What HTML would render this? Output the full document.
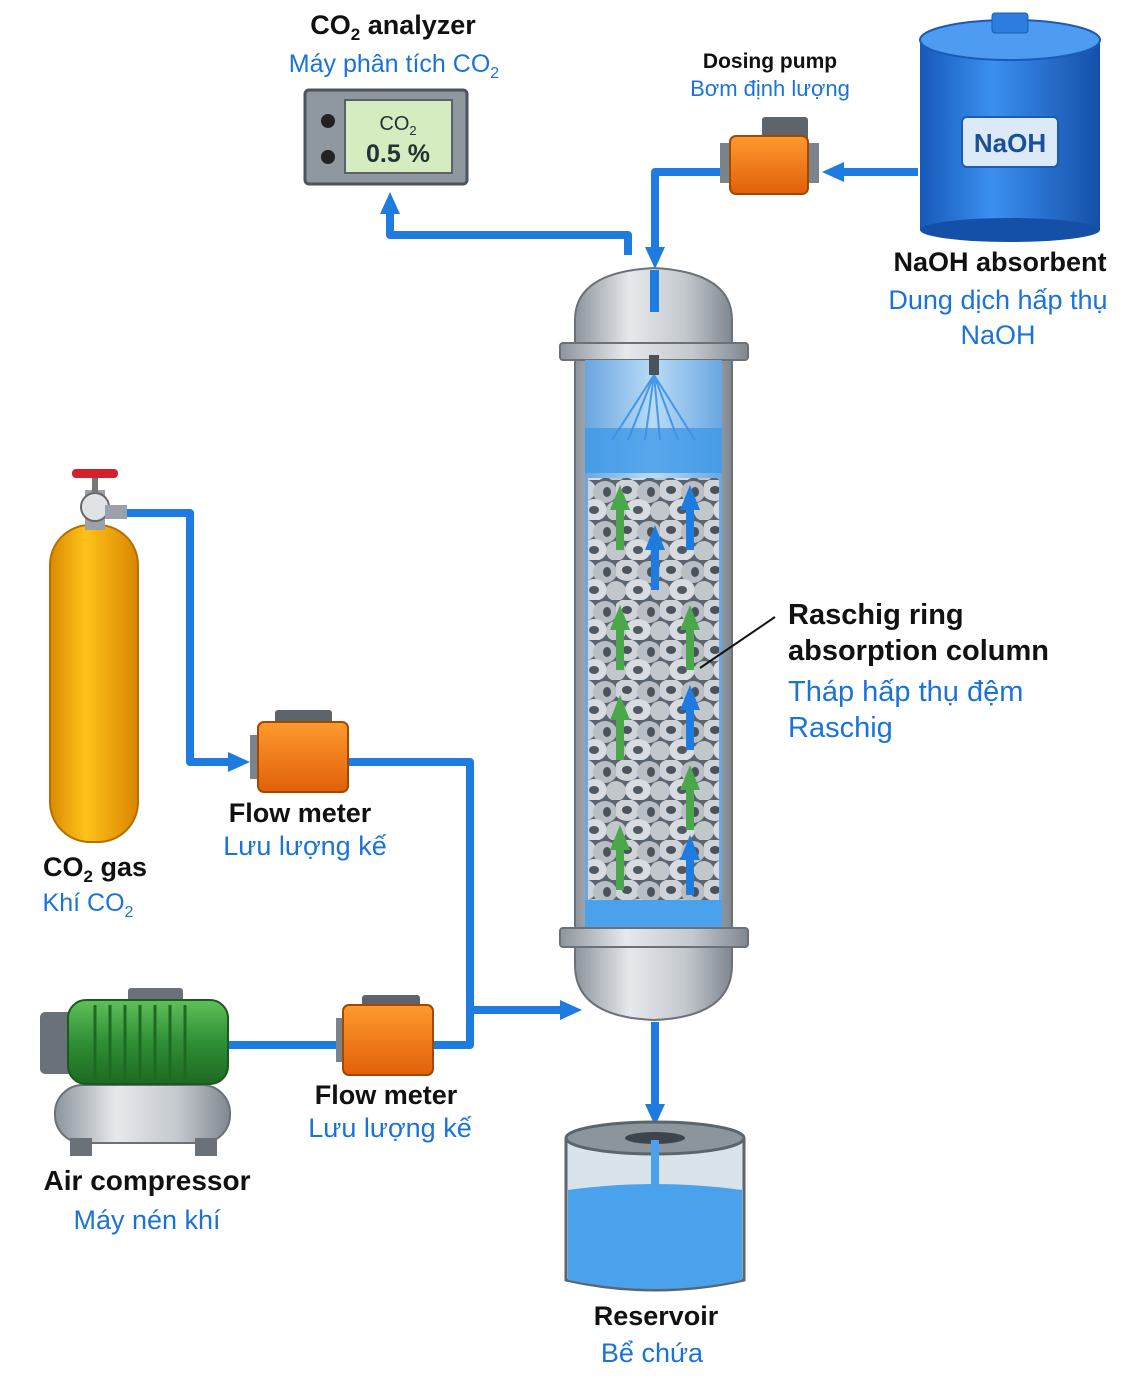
<!DOCTYPE html>
<html><head><meta charset="utf-8"><style>
html,body{margin:0;padding:0;background:#fff}
svg{display:block}
text{font-family:"Liberation Sans","DejaVu Sans",sans-serif}
.b{font-weight:bold;fill:#111}
.u{fill:#1a73d9}
</style></head><body>
<svg width="1128" height="1394" viewBox="0 0 1128 1394" xmlns="http://www.w3.org/2000/svg">
<defs>
<linearGradient id="steel" x1="0" x2="1"><stop offset="0" stop-color="#8d949c"/><stop offset=".35" stop-color="#e6e9ec"/><stop offset=".7" stop-color="#c4c9ce"/><stop offset="1" stop-color="#80878f"/></linearGradient>
<linearGradient id="yel" x1="0" x2="1"><stop offset="0" stop-color="#d98a00"/><stop offset=".4" stop-color="#ffc21a"/><stop offset="1" stop-color="#d98600"/></linearGradient>
<linearGradient id="blu" x1="0" x2="1"><stop offset="0" stop-color="#1659b8"/><stop offset=".4" stop-color="#3b8ff0"/><stop offset="1" stop-color="#1450a8"/></linearGradient>
<linearGradient id="org" x1="0" y1="0" x2="0" y2="1"><stop offset="0" stop-color="#ff9a2e"/><stop offset="1" stop-color="#e0600a"/></linearGradient>
<linearGradient id="grn" x1="0" y1="0" x2="0" y2="1"><stop offset="0" stop-color="#5fc05a"/><stop offset=".5" stop-color="#2f8f35"/><stop offset="1" stop-color="#1d6a22"/></linearGradient>
<linearGradient id="glass" x1="0" x2="1"><stop offset="0" stop-color="#6aa6e0"/><stop offset=".5" stop-color="#b8dcf7"/><stop offset="1" stop-color="#6aa6e0"/></linearGradient>
<pattern id="rings" width="44" height="40" patternUnits="userSpaceOnUse">
<rect width="44" height="40" fill="#5a6470"/>
<ellipse cx="11" cy="10" rx="13" ry="11" fill="#cfd3d8"/><ellipse cx="11" cy="10" rx="5" ry="4" fill="#4a525c"/>
<ellipse cx="33" cy="12" rx="12" ry="11" fill="#b9bec4"/><ellipse cx="35" cy="12" rx="4" ry="5" fill="#4a525c"/>
<ellipse cx="22" cy="30" rx="13" ry="11" fill="#d8dce0"/><ellipse cx="22" cy="30" rx="5" ry="4" fill="#505861"/>
<ellipse cx="0" cy="31" rx="10" ry="10" fill="#c2c7cc"/><ellipse cx="44" cy="31" rx="10" ry="10" fill="#c2c7cc"/>
</pattern>
<marker id="ar" markerWidth="22" markerHeight="22" refX="8" refY="11" orient="auto" markerUnits="userSpaceOnUse"><path d="M0,1 L22,11 L0,21 z" fill="#1e7be0"/></marker>
</defs>

<!-- pipes -->
<g fill="none" stroke="#1e7be0" stroke-width="8" stroke-linejoin="round">
<path d="M918,172 H836" marker-end="url(#ar)"/>
<path d="M720,172 H655 V255" marker-end="url(#ar)"/>
<path d="M628,255 V235 H390 V206" marker-end="url(#ar)"/>
<path d="M120,513 H190 V762 H236" marker-end="url(#ar)"/>
<path d="M348,762 H470 V1045 H433"/>
<path d="M470,1010 H568" marker-end="url(#ar)"/>
<path d="M228,1045 H340"/>
<path d="M655,1022 V1112" marker-end="url(#ar)"/>
</g>

<!-- analyzer -->
<rect x="305" y="90" width="162" height="94" rx="4" fill="#8f979f" stroke="#4d545b" stroke-width="3"/>
<rect x="345" y="100" width="107" height="73" fill="#d4ecc0" stroke="#5b6168" stroke-width="2"/>
<circle cx="328" cy="121" r="7" fill="#222"/><circle cx="328" cy="157" r="7" fill="#222"/>
<text x="398" y="130" font-size="20" text-anchor="middle" fill="#233">CO<tspan font-size="13" dy="5">2</tspan></text>
<text x="398" y="162" font-size="25" text-anchor="middle" font-weight="bold" fill="#233">0.5 %</text>
<text x="393" y="34" font-size="27" text-anchor="middle" class="b">CO<tspan font-size="17" dy="6">2</tspan><tspan dy="-6"> analyzer</tspan></text>
<text x="394" y="72" font-size="25" text-anchor="middle" class="u">Máy phân tích CO<tspan font-size="16" dy="6">2</tspan></text>

<!-- dosing pump -->
<rect x="762" y="117" width="46" height="24" rx="3" fill="#5d646c"/>
<rect x="720" y="143" width="14" height="40" fill="#7b838b"/>
<rect x="805" y="143" width="14" height="40" fill="#7b838b"/>
<rect x="730" y="136" width="78" height="58" rx="6" fill="url(#org)" stroke="#a34800" stroke-width="2"/>
<text x="770" y="68" font-size="21" text-anchor="middle" class="b">Dosing pump</text>
<text x="770" y="96" font-size="22" text-anchor="middle" class="u">Bơm định lượng</text>

<!-- NaOH tank -->
<rect x="920" y="40" width="180" height="190" fill="url(#blu)"/>
<ellipse cx="1010" cy="230" rx="90" ry="12" fill="#1450a8"/>
<ellipse cx="1010" cy="40" rx="90" ry="20" fill="#4d9cf2" stroke="#1a5cb5" stroke-width="2"/>
<rect x="992" y="13" width="36" height="20" rx="3" fill="#2d7de0" stroke="#1a5cb5"/>
<rect x="962" y="117" width="96" height="50" rx="5" fill="#dceaf8" stroke="#1a5cb5" stroke-width="2"/>
<text x="1010" y="152" font-size="26" text-anchor="middle" font-weight="bold" fill="#1a4f9a">NaOH</text>
<text x="1000" y="271" font-size="27" text-anchor="middle" class="b">NaOH absorbent</text>
<text x="998" y="309" font-size="27" text-anchor="middle" class="u">Dung dịch hấp thụ</text>
<text x="998" y="344" font-size="27" text-anchor="middle" class="u">NaOH</text>

<!-- column -->
<path d="M575,345 V320 Q575,272 654,268 Q732,272 732,320 V345 z" fill="url(#steel)" stroke="#6a7179" stroke-width="2"/>
<rect x="650" y="270" width="9" height="42" fill="#1e7be0"/>
<rect x="560" y="343" width="188" height="17" rx="3" fill="url(#steel)" stroke="#6a7179" stroke-width="2"/>
<rect x="575" y="360" width="157" height="570" fill="url(#steel)" stroke="#6a7179" stroke-width="2"/>
<rect x="585" y="360" width="137" height="570" fill="url(#glass)"/>
<rect x="585" y="428" width="137" height="45" fill="#3f9ae8" opacity=".8"/>
<rect x="588" y="478" width="131" height="424" fill="url(#rings)"/>
<rect x="585" y="900" width="137" height="30" fill="#4aa2ec"/>
<g stroke="#3d90e6" stroke-width="2" opacity=".9">
<line x1="654" y1="375" x2="612" y2="440"/><line x1="654" y1="375" x2="628" y2="440"/><line x1="654" y1="375" x2="645" y2="440"/><line x1="654" y1="375" x2="660" y2="440"/><line x1="654" y1="375" x2="678" y2="440"/><line x1="654" y1="375" x2="695" y2="440"/>
</g>
<rect x="649" y="355" width="10" height="20" fill="#4a525a"/>
<g fill="#1e7be0"><path d="M610,510 L620,485 L630,510 h-6 v40 h-8 v-40z" fill="#4aa84a"/><path d="M680,510 L690,485 L700,510 h-6 v40 h-8 v-40z"/><path d="M645,550 L655,525 L665,550 h-6 v40 h-8 v-40z"/><path d="M610,630 L620,605 L630,630 h-6 v40 h-8 v-40z" fill="#4aa84a"/><path d="M680,630 L690,605 L700,630 h-6 v40 h-8 v-40z" fill="#4aa84a"/><path d="M610,720 L620,695 L630,720 h-6 v40 h-8 v-40z" fill="#4aa84a"/><path d="M680,710 L690,685 L700,710 h-6 v40 h-8 v-40z"/><path d="M680,790 L690,765 L700,790 h-6 v40 h-8 v-40z" fill="#4aa84a"/><path d="M610,850 L620,825 L630,850 h-6 v40 h-8 v-40z" fill="#4aa84a"/><path d="M680,860 L690,835 L700,860 h-6 v35 h-8 v-35z"/></g>
<rect x="560" y="928" width="188" height="19" rx="3" fill="url(#steel)" stroke="#6a7179" stroke-width="2"/>
<path d="M575,947 V965 Q575,1017 654,1020 Q732,1017 732,965 V947 z" fill="url(#steel)" stroke="#6a7179" stroke-width="2"/>
<line x1="775" y1="617" x2="700" y2="668" stroke="#111" stroke-width="2"/>
<text x="788" y="624" font-size="29" class="b">Raschig ring</text>
<text x="788" y="660" font-size="29" class="b">absorption column</text>
<text x="788" y="701" font-size="29" class="u">Tháp hấp thụ đệm</text>
<text x="788" y="737" font-size="29" class="u">Raschig</text>

<!-- CO2 cylinder -->
<rect x="50" y="525" width="88" height="317" rx="40" fill="url(#yel)" stroke="#b36f00" stroke-width="2"/>
<rect x="85" y="490" width="20" height="40" fill="#9aa1a8"/>
<circle cx="95" cy="507" r="14" fill="#dfe3e6" stroke="#666" stroke-width="2"/>
<rect x="105" y="505" width="22" height="14" fill="#9aa1a8"/>
<rect x="92" y="475" width="6" height="18" fill="#777"/>
<rect x="72" y="469" width="46" height="9" rx="4" fill="#d3202a"/>
<text x="95" y="876" font-size="27" text-anchor="middle" class="b">CO<tspan font-size="17" dy="6">2</tspan><tspan dy="-6"> gas</tspan></text>
<text x="88" y="911" font-size="25" text-anchor="middle" class="u">Khí CO<tspan font-size="16" dy="6">2</tspan></text>

<!-- flow meter 1 -->
<rect x="275" y="710" width="57" height="16" rx="3" fill="#5d646c"/>
<rect x="250" y="735" width="14" height="44" fill="#7b838b"/>
<rect x="258" y="722" width="90" height="70" rx="6" fill="url(#org)" stroke="#a34800" stroke-width="2"/>
<text x="300" y="822" font-size="27" text-anchor="middle" class="b">Flow meter</text>
<text x="305" y="855" font-size="27" text-anchor="middle" class="u">Lưu lượng kế</text>

<!-- flow meter 2 -->
<rect x="362" y="995" width="58" height="15" rx="3" fill="#5d646c"/>
<rect x="336" y="1018" width="14" height="44" fill="#7b838b"/>
<rect x="343" y="1005" width="90" height="70" rx="6" fill="url(#org)" stroke="#a34800" stroke-width="2"/>
<text x="386" y="1104" font-size="27" text-anchor="middle" class="b">Flow meter</text>
<text x="390" y="1137" font-size="27" text-anchor="middle" class="u">Lưu lượng kế</text>

<!-- compressor -->
<rect x="55" y="1085" width="175" height="58" rx="28" fill="url(#steel)" stroke="#6a7179" stroke-width="2"/>
<rect x="70" y="1138" width="22" height="18" fill="#6a7179"/><rect x="195" y="1138" width="22" height="18" fill="#6a7179"/>
<rect x="40" y="1012" width="35" height="62" rx="5" fill="#6a7179"/>
<rect x="128" y="988" width="55" height="18" rx="3" fill="#6a7179"/>
<rect x="68" y="1000" width="160" height="84" rx="18" fill="url(#grn)" stroke="#1a5a1e" stroke-width="2"/>
<g stroke="#1c6a22" stroke-width="3"><line x1="95" y1="1005" x2="95" y2="1080"/><line x1="110" y1="1005" x2="110" y2="1080"/><line x1="125" y1="1005" x2="125" y2="1080"/><line x1="140" y1="1005" x2="140" y2="1080"/><line x1="155" y1="1005" x2="155" y2="1080"/><line x1="170" y1="1005" x2="170" y2="1080"/><line x1="185" y1="1005" x2="185" y2="1080"/></g>
<text x="147" y="1190" font-size="28" text-anchor="middle" class="b">Air compressor</text>
<text x="147" y="1229" font-size="27" text-anchor="middle" class="u">Máy nén khí</text>

<!-- reservoir -->
<path d="M566,1138 V1280 Q655,1300 744,1280 V1138" fill="#dbe3ea" stroke="#5c646c" stroke-width="3"/>
<path d="M568,1190 Q655,1178 742,1190 V1280 Q655,1298 568,1280 z" fill="#4aa2ec"/>
<ellipse cx="655" cy="1138" rx="89" ry="16" fill="#8c949c" stroke="#5c646c" stroke-width="3"/>
<ellipse cx="655" cy="1138" rx="30" ry="6" fill="#3d444b"/>
<rect x="651" y="1140" width="8" height="55" fill="#4aa2ec"/>
<text x="656" y="1325" font-size="27" text-anchor="middle" class="b">Reservoir</text>
<text x="652" y="1362" font-size="27" text-anchor="middle" class="u">Bể chứa</text>
</svg>
</body></html>
